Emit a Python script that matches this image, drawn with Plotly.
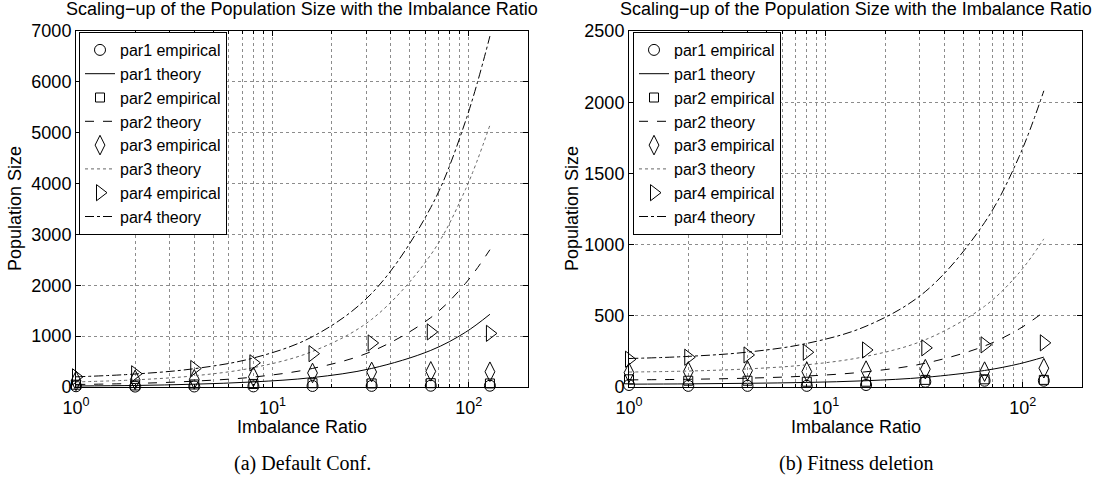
import plotly.graph_objects as go

# ---------------- data ----------------
ir_emp = [1, 2, 4, 8, 16, 32, 64, 128]
ir_th = [1, 2, 4, 8, 16, 32, 64, 96, 128]

# (a) Default Conf.
a_par1_emp = [15, 8, 10, 12, 20, 22, 25, 25]
a_par2_emp = [45, 30, 50, 60, 75, 70, 75, 70]
a_par3_emp = [120, 140, 150, 200, 276, 296, 308, 300]
a_par4_emp = [200, 260, 364, 476, 656, 866, 1083, 1055]
a_par1_th = [20, 30, 55, 100, 185, 365, 720, 1075, 1430]
a_par2_th = [50, 70, 115, 195, 365, 700, 1365, 2035, 2700]
a_par3_th = [100, 140, 220, 380, 700, 1330, 2600, 3880, 5150]
a_par4_th = [200, 255, 360, 570, 990, 1840, 3530, 5220, 6900]

# (b) Fitness deletion
b_par1_emp = [14, 8, 8, 8, 14, 37, 44, 44]
b_par2_emp = [54, 44, 44, 37, 37, 50, 54, 50]
b_par3_emp = [100, 108, 115, 108, 115, 125, 108, 132]
b_par4_emp = [195, 209, 225, 244, 260, 275, 296, 310]
b_par1_th = [20, 22, 26, 32, 44, 68, 116, 163, 210]
b_par2_th = [50, 54, 62, 77, 107, 167, 288, 408, 527]
b_par3_th = [105, 112, 127, 156, 215, 332, 567, 803, 1040]
b_par4_th = [200, 215, 245, 306, 427, 670, 1155, 1620, 2080]

names = ["par1", "par2", "par3", "par4"]
symbols = ["circle-open", "square-open", "diamond-tall-open", "triangle-right-open"]
msizes = [11, 9, 14, 14]
dashes = ["solid", "dash", "dot", "dashdot"]

title_text = "Scaling\u2212up of the Population Size with the Imbalance Ratio"
captions = ["(a) Default Conf.", "(b) Fitness deletion"]
xtick_vals = [1, 10, 100]
xtick_text = ["10<sup>0</sup>", "10<sup>1</sup>", "10<sup>2</sup>"]
xminor_vals = [2, 3, 4, 5, 6, 7, 8, 9, 20, 30, 40, 50, 60, 70, 80, 90]

W, H = 1108, 483
FONT = "Liberation Sans, Arial, sans-serif"
FS = 18

fig = go.Figure()

panels = [
    (a_par1_emp, a_par2_emp, a_par3_emp, a_par4_emp,
     a_par1_th, a_par2_th, a_par3_th, a_par4_th),
    (b_par1_emp, b_par2_emp, b_par3_emp, b_par4_emp,
     b_par1_th, b_par2_th, b_par3_th, b_par4_th),
]

for p, data in enumerate(panels):
    emps = data[:4]
    ths = data[4:]
    xa = "x" if p == 0 else "x2"
    ya = "y" if p == 0 else "y2"
    lg = "legend" if p == 0 else "legend2"
    for i in range(4):
        fig.add_trace(go.Scatter(
            x=ir_emp, y=emps[i], mode="markers", name=names[i] + " empirical",
            marker=dict(symbol=symbols[i], size=msizes[i], color="black",
                        line=dict(width=1, color="black")),
            xaxis=xa, yaxis=ya, legend=lg, cliponaxis=False))
        fig.add_trace(go.Scatter(
            x=ir_th, y=ths[i], mode="lines", name=names[i] + " theory",
            line=dict(color="black" if i != 2 else "#666666", width=1,
                      dash=dashes[i], shape="spline"),
            xaxis=xa, yaxis=ya, legend=lg))


def fx(px):
    return px / W


def fy(py):
    return 1 - py / H


dom_y = [fy(387), fy(31)]

axis_common = dict(
    showline=True, linecolor="black", linewidth=1, mirror="ticks",
    ticks="inside", ticklen=5, tickcolor="black",
    showgrid=True, gridcolor="#8c8c8c", griddash="dot", gridwidth=1,
    zeroline=False, automargin=False,
    tickfont=dict(family=FONT, size=FS, color="black"),
)

xaxis_common = dict(
    axis_common, type="log", range=[0, 2.30103],
    tickvals=xtick_vals, ticktext=xtick_text, ticklabelstandoff=4,
    minor=dict(tickvals=xminor_vals, ticks="inside", ticklen=3, tickcolor="black",
               showgrid=True, gridcolor="#8c8c8c", griddash="dot", gridwidth=1),
)

legend_common = dict(
    xanchor="left", yanchor="top", bordercolor="black", borderwidth=1,
    bgcolor="white", font=dict(family=FONT, size=16, color="black"),
    tracegroupgap=0, itemwidth=30,
)

fig.update_layout(
    width=W, height=H,
    margin=dict(l=0, r=0, t=0, b=0),
    paper_bgcolor="white", plot_bgcolor="white",
    font=dict(family=FONT, size=FS, color="black"),
    xaxis=dict(xaxis_common, domain=[fx(76), fx(528)], anchor="y"),
    yaxis=dict(axis_common, domain=dom_y, range=[0, 7000], dtick=1000, anchor="x"),
    xaxis2=dict(xaxis_common, domain=[fx(629), fx(1082)], anchor="y2"),
    yaxis2=dict(axis_common, domain=dom_y, range=[0, 2500], dtick=500, anchor="x2"),
    legend=dict(legend_common, x=fx(79), y=fy(32)),
    legend2=dict(legend_common, x=fx(633), y=fy(32)),
    showlegend=True,
)

annots = []
centers = [(76 + 528) / 2, (629 + 1082) / 2]
ylab_x = [15, 572]
for p in range(2):
    annots.append(dict(text=title_text, x=fx(centers[p]), y=fy(9), xref="paper", yref="paper",
                       showarrow=False, xanchor="center", yanchor="middle",
                       font=dict(family=FONT, size=FS, color="black")))
    annots.append(dict(text="Imbalance Ratio", x=fx(centers[p]), y=fy(427), xref="paper", yref="paper",
                       showarrow=False, xanchor="center", yanchor="middle",
                       font=dict(family=FONT, size=FS, color="black")))
    annots.append(dict(text="Population Size", x=fx(ylab_x[p]), y=fy(209), xref="paper", yref="paper",
                       showarrow=False, xanchor="center", yanchor="middle", textangle=-90,
                       font=dict(family=FONT, size=FS, color="black")))
    annots.append(dict(text=captions[p], x=fx(centers[p]), y=fy(463), xref="paper", yref="paper",
                       showarrow=False, xanchor="center", yanchor="middle",
                       font=dict(family="Liberation Serif, DejaVu Serif, serif", size=20, color="black")))
fig.update_layout(annotations=annots)

fig.write_html("out.html", config={"displayModeBar": False},
               post_script="document.body.style.margin='0';document.body.style.overflow='hidden';")
